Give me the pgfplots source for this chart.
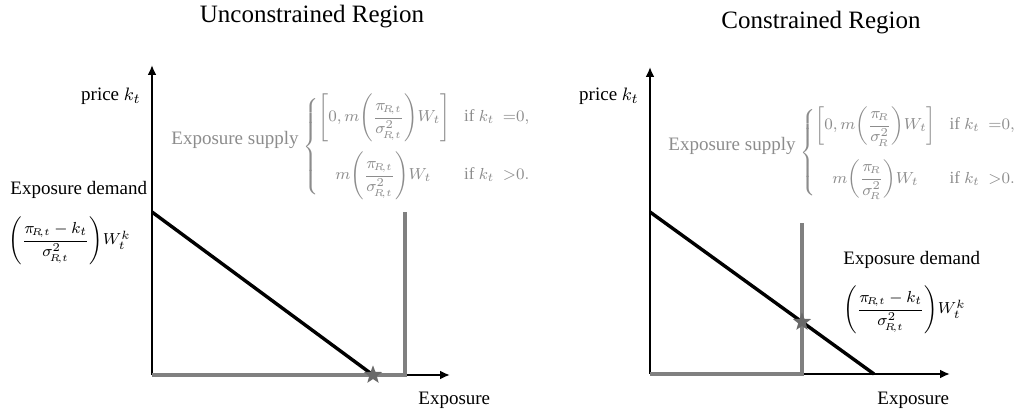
\documentclass[border=0pt]{standalone}
\usepackage{amsmath}
\usepackage{fontspec}
\setmainfont{Liberation Serif}
\usepackage{pgfplots}
\pgfplotsset{compat=1.18}
\usetikzlibrary{arrows.meta}
\definecolor{supgray}{RGB}{128,128,128}
\definecolor{txtgray}{RGB}{140,140,140}
\definecolor{stargray}{RGB}{105,105,105}
\newcommand{\lbl}{\fontsize{9.5}{11}\selectfont}
\newcommand{\ttl}{\fontsize{12.5}{14}\selectfont}
\newcommand{\mth}{\fontsize{8.5}{10}\selectfont}
\newcommand{\Rt}{{\scriptscriptstyle\!R\!,t}}
\newcommand{\Rr}{{\scriptscriptstyle\!R}}
% filled five-point star
\pgfdeclareplotmark{pentastar}{%
  \pgfpathmoveto{\pgfpointpolar{90}{\pgfplotmarksize}}%
  \pgfpathlineto{\pgfpointpolar{126}{0.42*\pgfplotmarksize}}%
  \pgfpathlineto{\pgfpointpolar{162}{\pgfplotmarksize}}%
  \pgfpathlineto{\pgfpointpolar{198}{0.42*\pgfplotmarksize}}%
  \pgfpathlineto{\pgfpointpolar{234}{\pgfplotmarksize}}%
  \pgfpathlineto{\pgfpointpolar{270}{0.42*\pgfplotmarksize}}%
  \pgfpathlineto{\pgfpointpolar{306}{\pgfplotmarksize}}%
  \pgfpathlineto{\pgfpointpolar{342}{0.42*\pgfplotmarksize}}%
  \pgfpathlineto{\pgfpointpolar{18}{\pgfplotmarksize}}%
  \pgfpathlineto{\pgfpointpolar{54}{0.42*\pgfplotmarksize}}%
  \pgfpathclose\pgfusepathqfill}
\pgfplotsset{diag/.style={x=0.5pt,y=0.5pt,anchor=south west,set layers,
  axis lines=left,ticks=none,xmin=0,ymin=0,clip=false,
  axis line style={line width=1pt,-{Latex[length=5pt,width=4.5pt]}}}}
\begin{document}
\begin{tikzpicture}
\begin{axis}[diag,at={(76pt,19pt)},xmax=298,ymax=310]
\addplot[supgray,line width=1.7pt] coordinates {(0,0) (253,0) (253,163)};
\addplot[black,line width=1.7pt] coordinates {(0,163) (221,0)};
\addplot[only marks,mark=pentastar,mark size=4.8pt,stargray] coordinates {(221,0)};
\end{axis}
\begin{axis}[diag,at={(325pt,19.5pt)},xmax=300,ymax=307]
\addplot[supgray,line width=1.7pt] coordinates {(0,0) (152,0) (152,151)};
\addplot[black,line width=1.7pt] coordinates {(0,162) (224,0)};
\addplot[only marks,mark=pentastar,mark size=4.8pt,stargray] coordinates {(152,52)};
\end{axis}
\begin{scope}[x=0.5pt,y=-0.5pt,yshift=206.5pt,font=\lbl]
\node[font=\ttl] at (312,17) {Unconstrained Region};
\node[font=\ttl] at (821,23) {Constrained Region};
\node[anchor=base east,inner sep=0pt] at (141,101) {price $k_t$};
\node[anchor=base east,inner sep=0pt] at (639,101) {price $k_t$};
\node[anchor=base west,inner sep=0pt,text=txtgray] at (171,145) {Exposure supply \raisebox{-3pt}{\mth$\left\{\begin{array}{@{}l@{\hspace{7pt}}l@{}}
  \left[0,m\!\left(\dfrac{\pi_\Rt}{\sigma^2_\Rt}\right)\!W_t\right] & \text{if } k_t\ \ {=}0,\\[12pt]
  \quad m\!\left(\dfrac{\pi_\Rt}{\sigma^2_\Rt}\right)\!W_t & \text{if } k_t\ \ {>}0.
  \end{array}\right.$}};
\node[anchor=base west,inner sep=0pt,text=txtgray] at (668,151) {Exposure supply \raisebox{-3pt}{\mth$\left\{\begin{array}{@{}l@{\hspace{7pt}}l@{}}
  \left[0,m\!\left(\dfrac{\pi_\Rr}{\sigma^2_\Rr}\right)\!W_t\right] & \text{if } k_t\ \ {=}0,\\[12pt]
  \quad m\!\left(\dfrac{\pi_\Rr}{\sigma^2_\Rr}\right)\!W_t & \text{if } k_t\ \ {>}0.
  \end{array}\right.$}};
\node[anchor=base west,inner sep=0pt] at (10,195) {Exposure demand};
\node[anchor=west,inner sep=0pt,font=\mth] at (8,241) {$\left(\dfrac{\pi_\Rt-k_t}{\sigma^2_\Rt}\right)\!W_t^k$};
\node[anchor=base west,inner sep=0pt] at (843,265) {Exposure demand};
\node[anchor=west,inner sep=0pt,font=\mth] at (843,310) {$\left(\dfrac{\pi_\Rt-k_t}{\sigma^2_\Rt}\right)\!W_t^k$};
\node[anchor=base west,inner sep=0pt] at (418,405) {Exposure};
\node[anchor=base west,inner sep=0pt] at (877,405) {Exposure};
\end{scope}
\pgfresetboundingbox
\path[use as bounding box] (0,0) rectangle (515pt,206.5pt);
\end{tikzpicture}
\end{document}
